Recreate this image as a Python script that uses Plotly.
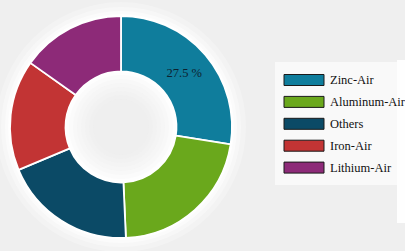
import plotly.graph_objects as go

labels = ["Zinc-Air", "Aluminum-Air", "Others", "Iron-Air", "Lithium-Air"]
values = [27.5, 21.8, 19.4, 16.1, 15.2]
colors = ["#0f7d9c", "#6aa81c", "#0b4a66", "#c23434", "#8d2a78"]
slice_text = ["27.5 %", "", "", "", ""]

W, H = 405, 251
cx, cy, R = 121, 127, 111
SERIF = "Liberation Serif"

fig = go.Figure()
fig.add_trace(go.Pie(
    labels=labels, values=values, text=slice_text, textinfo="text",
    sort=False, direction="clockwise", rotation=0, hole=0.5,
    marker=dict(colors=colors, line=dict(color="white", width=1.8)),
    textposition="inside", insidetextorientation="horizontal",
    textfont=dict(family=SERIF, size=12.5, color="#0d2230"),
    domain=dict(x=[(cx - R) / W, (cx + R) / W], y=[1 - (cy + R) / H, 1 - (cy - R) / H]),
    showlegend=False, hoverinfo="label+percent",
))

shapes = []
# soft white glow around the donut
for extra, op in [(14, 0.25), (9, 0.35), (5, 0.5), (2, 0.7)]:
    r = R + extra
    shapes.append(dict(type="circle", xref="paper", yref="paper", layer="below",
                       x0=(cx - r) / W, x1=(cx + r) / W, y0=1 - (cy + r) / H, y1=1 - (cy - r) / H,
                       fillcolor="white", opacity=op, line=dict(width=0)))
# gentle grey gradient towards the centre of the hole
for r in [52, 48, 44, 40, 36, 32, 28]:
    shapes.append(dict(type="circle", xref="paper", yref="paper", layer="below",
                       x0=(cx - r) / W, x1=(cx + r) / W, y0=1 - (cy + r) / H, y1=1 - (cy - r) / H,
                       fillcolor="#e8e8e8", opacity=0.13, line=dict(width=0)))
# legend glow and right-edge strip
shapes.append(dict(type="rect", xref="paper", yref="paper", layer="below",
                   x0=275 / W, x1=397 / W, y0=1 - 185 / H, y1=1 - 62 / H,
                   fillcolor="white", opacity=0.6, line=dict(width=0)))
shapes.append(dict(type="rect", xref="paper", yref="paper", layer="below",
                   x0=397 / W, x1=1, y0=1 - 223 / H, y1=1 - 60 / H,
                   fillcolor="white", opacity=0.9, line=dict(width=0)))

annotations = []
for i, (lab, col) in enumerate(zip(labels, colors)):
    yc = 80 + 21.9 * i
    shapes.append(dict(type="rect", xref="paper", yref="paper",
                       x0=284 / W, x1=324 / W, y0=1 - (yc + 5.5) / H, y1=1 - (yc - 5.5) / H,
                       fillcolor=col, line=dict(color="#1a1a1a", width=1)))
    annotations.append(dict(x=329 / W, y=1 - yc / H, xref="paper", yref="paper",
                            text=lab, showarrow=False, xanchor="left", yanchor="middle",
                            borderpad=0,
                            font=dict(family=SERIF, size=12.5, color="#111111")))

fig.update_layout(
    width=W, height=H, margin=dict(l=0, r=0, t=0, b=0),
    paper_bgcolor="#efefef", plot_bgcolor="#efefef",
    font=dict(family=SERIF),
    shapes=shapes, annotations=annotations,
)
fig.write_html("out.html")
